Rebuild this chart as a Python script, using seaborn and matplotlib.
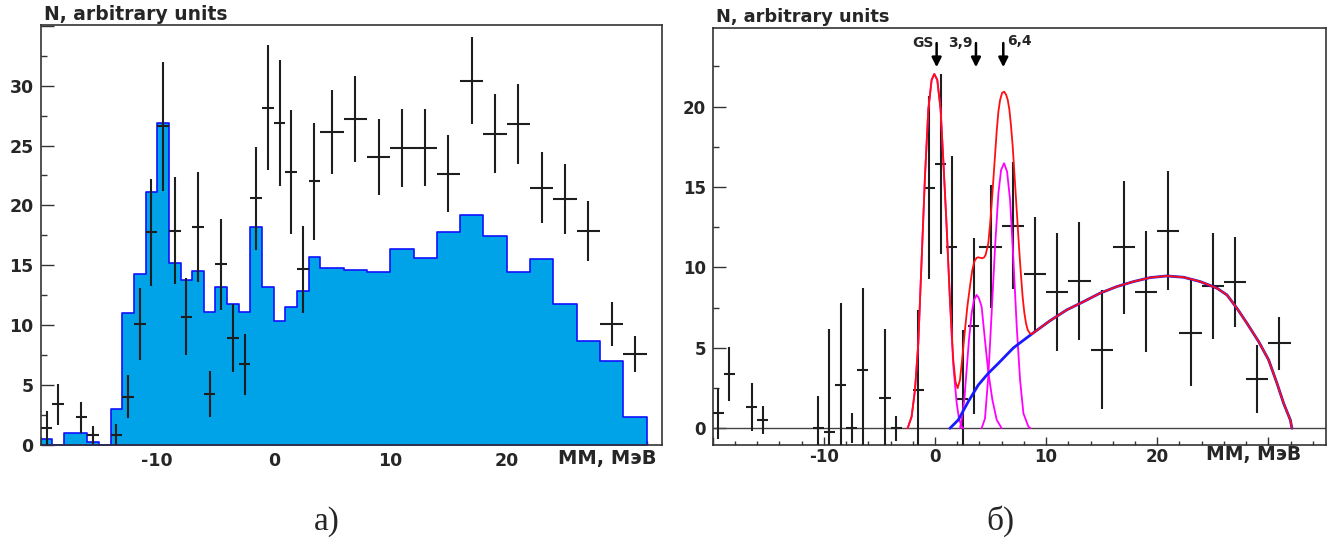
"""
Missing mass spectra: a) raw counts with simulated background, b) fit with GS, 3.9 and 6.4 MeV peaks
"""
import numpy as np
import pandas as pd
import matplotlib
matplotlib.use('Agg')
import matplotlib.pyplot as plt
from matplotlib.ticker import MultipleLocator, FuncFormatter
import seaborn as sns

# ---- panel a) : histogram (blue) ----
hist_edges = [-20, -19, -18, -17, -16, -15, -14, -13, -12, -11, -10, -9, -8, -7, -6, -5,
              -4, -3, -2, -1, 0, 1, 2, 3, 4, 6, 8, 10, 12, 14, 16, 18, 20, 22, 24, 26,
              28, 30, 32]
hist_counts = [0.47, 0, 1.03, 1.03, 0.28, 0, 3.03, 11.0, 14.28, 21.1, 26.86, 15.17, 13.8,
               14.55, 11.08, 13.2, 11.75, 11.1, 18.17, 13.2, 10.35, 11.55, 12.86, 15.67,
               14.8, 14.58, 14.45, 16.34, 15.59, 17.78, 19.18, 17.45, 14.47, 15.53, 11.74,
               8.71, 7.01, 2.37]

# ---- panel a) : data points ----
a_x = [-19.5, -18.5, -16.5, -15.5, -13.5, -12.5, -11.5, -10.5, -9.5, -8.5, -7.5, -6.5,
       -5.5, -4.5, -3.5, -2.5, -1.5, -0.5, 0.5, 1.5, 2.5, 3.5, 5, 7, 9, 11, 13, 15, 17,
       19, 21, 23, 25, 27, 29, 31]
a_y = [1.45, 3.4, 2.3, 0.83, 0.83, 4.04, 10.07, 17.76, 26.6, 17.9, 10.7, 18.2, 4.26, 15.1,
       8.96, 6.74, 20.6, 28.17, 26.86, 22.8, 14.67, 22.0, 26.16, 27.2, 24.05, 24.77, 24.83,
       22.66, 30.42, 25.97, 26.77, 21.49, 20.54, 17.9, 10.1, 7.63]
a_yerr = [1.42, 1.7, 1.3, 0.75, 0.9, 1.8, 3.0, 4.45, 5.4, 4.5, 3.2, 4.6, 1.9, 3.8, 2.85,
          2.55, 4.3, 5.25, 5.25, 5.2, 3.65, 4.9, 3.5, 3.6, 3.15, 3.27, 3.25, 3.25, 3.65,
          3.3, 3.35, 2.95, 2.95, 2.5, 1.8, 1.5]

# ---- panel b) : data points ----
b_x = [-19.5, -18.5, -16.5, -15.5, -10.5, -9.5, -8.5, -7.5, -6.5, -4.5, -3.5, -1.5, -0.5,
       0.5, 1.5, 2.5, 3.5, 5, 7, 9, 11, 13, 15, 17, 19, 21, 23, 25, 27, 29, 31]
b_y = [0.93, 3.38, 1.31, 0.52, 0, -0.25, 2.69, 0, 3.63, 1.87, 0, 2.38, 14.96, 16.43,
       11.25, 1.82, 6.36, 11.3, 12.6, 9.58, 8.46, 9.16, 4.87, 11.25, 8.5, 12.29, 5.95,
       8.85, 9.12, 3.07, 5.28]
b_yerr = [1.6, 1.7, 1.5, 0.85, 2.0, 6.4, 5.1, 0.93, 5.1, 4.3, 0.77, 5.0, 5.67, 5.62, 5.67,
          4.3, 5.5, 3.83, 3.94, 3.56, 3.68, 3.68, 3.7, 4.13, 3.75, 3.7, 3.35, 3.3, 2.8,
          2.12, 1.63]

# ---- panel b) : fit curves (read off the picture) ----
bg_x = [1.35, 2.1, 3.0, 3.9, 4.8, 5.71, 7.06, 8.71, 10.36, 11.86, 13.36, 14.86, 16.37,
        17.87, 19.37, 20.87, 22.37, 23.87, 25.38, 26.28, 27.18, 28.08, 29.13, 30.03,
        30.78, 31.38, 31.98, 32.13]
bg_y = [0, 0.52, 1.66, 2.69, 3.42, 4.04, 5.0, 5.86, 6.69, 7.36, 7.87, 8.40, 8.81, 9.12,
        9.37, 9.47, 9.39, 9.12, 8.71, 8.29, 7.46, 6.53, 5.39, 4.25, 2.80, 1.55, 0.52, 0.0]

total_x = [-2.46, -2.10, -1.80, -1.50, -1.20, -0.90, -0.60, -0.30, -0.06, 0.21, 0.51,
           0.75, 1.05, 1.35, 1.50, 1.65, 1.85, 2.04, 2.25, 2.45, 2.70, 2.92, 3.15, 3.35,
           3.54, 3.75, 3.90, 4.08, 4.26, 4.42, 4.56, 4.80, 4.95, 5.10, 5.25, 5.41, 5.56,
           5.71, 5.86, 6.04, 6.22, 6.40, 6.55, 6.70, 6.85, 7.00, 7.15, 7.30, 7.45, 7.60,
           7.75, 7.90, 8.05, 8.20, 8.35, 8.55, 8.71, 10.36, 11.86, 13.36, 14.86, 16.37,
           17.87, 19.37, 20.87, 22.37, 23.87, 25.38, 26.28, 27.18, 28.08, 29.13, 30.03,
           30.78, 31.38, 31.98, 32.13]
total_y = [0, 0.72, 2.38, 5.28, 10.47, 15.65, 19.8, 21.66, 22.03, 21.66, 19.8, 16.69,
           12.54, 7.98, 6.11, 4.25, 2.9, 2.49, 3.0, 4.3, 6.11, 7.6, 8.81, 9.8, 10.36,
           10.6, 10.63, 10.6, 10.57, 10.62, 10.78, 11.5, 12.6, 13.9, 15.4, 17.0, 18.5,
           19.7, 20.4, 20.85, 20.93, 20.75, 20.42, 19.8, 18.76, 17.5, 15.86, 14.2, 12.54,
           10.9, 9.43, 8.1, 7.15, 6.5, 6.11, 5.9, 5.86, 6.69, 7.36, 7.87, 8.40, 8.81, 9.12,
           9.37, 9.47, 9.39, 9.12, 8.71, 8.29, 7.46, 6.53, 5.39, 4.25, 2.80, 1.55, 0.52, 0.0]

gs_x = [-2.46, -2.10, -1.80, -1.50, -1.20, -0.90, -0.60, -0.30, -0.06, 0.21, 0.51, 0.75,
        1.05, 1.35, 1.50, 1.65, 1.95, 2.16, 2.40, 2.55]
gs_y = [0, 0.72, 2.38, 5.28, 10.47, 15.65, 19.8, 21.66, 22.03, 21.66, 19.8, 16.69, 12.54,
        7.9, 5.9, 3.9, 1.6, 0.6, 0.1, 0]

p39_x = [2.25, 2.40, 2.64, 2.85, 3.06, 3.30, 3.50, 3.75, 3.95, 4.20, 4.50, 4.80, 5.17,
         5.56, 6.0]
p39_y = [0, 0.52, 1.76, 3.63, 5.49, 7.15, 7.95, 8.29, 8.1, 7.56, 5.49, 3.5, 1.76, 0.52, 0]

p64_x = [4.2, 4.5, 4.8, 5.1, 5.41, 5.71, 5.95, 6.22, 6.49, 6.76, 7.06, 7.36, 7.66, 7.96,
         8.41, 8.6]
p64_y = [0, 0.6, 3.2, 7.15, 11.29, 14.61, 16.06, 16.48, 15.96, 14.2, 10.47, 6.32, 3.0,
         0.93, 0.1, 0]

# peak markers: label, arrow position
peak_labels = ['GS', '3,9', '6,4']
peak_pos = [0.15, 3.69, 6.15]

# ---- style ----
sns.set_style('white')
plt.rcParams['font.family'] = ['DejaVu Sans']
plt.rcParams['font.weight'] = 'bold'

FRAME = '#333333'
BAR = '#1e1e1e'


def style_axes(ax, xlim, ylim, label_size, ylab_max, xpad):
    """ROOT-like frame: inward ticks on bottom and left only"""
    ax.set_xlim(*xlim)
    ax.set_ylim(*ylim)
    for sp in ax.spines.values():
        sp.set_color(FRAME)
        sp.set_linewidth(1.2)
        sp.set_visible(True)
    ax.xaxis.set_major_locator(MultipleLocator(10))
    ax.xaxis.set_minor_locator(MultipleLocator(2))
    ax.yaxis.set_major_locator(MultipleLocator(5))
    ax.yaxis.set_minor_locator(MultipleLocator(2.5))
    ax.xaxis.set_major_formatter(FuncFormatter(
        lambda v, p: '' if round(v) in (-20, 30) else f'{v:g}'))
    ax.yaxis.set_major_formatter(FuncFormatter(
        lambda v, p: '' if v > ylab_max else f'{v:g}'))
    ax.tick_params(which='both', direction='in', top=False, right=False,
                   bottom=True, left=True, color=FRAME, width=1)
    ax.tick_params(axis='y', which='major', length=9, pad=5, labelsize=label_size)
    ax.tick_params(axis='y', which='minor', length=4.5)
    ax.tick_params(axis='x', which='major', length=6, pad=xpad, labelsize=label_size)
    ax.tick_params(axis='x', which='minor', length=3)
    for lab in ax.get_xticklabels() + ax.get_yticklabels():
        lab.set_fontweight('bold')
    ax.set_xlabel('')
    ax.set_ylabel('')


fig = plt.figure(figsize=(13.43, 5.44), dpi=100)
ax1 = fig.add_axes([0.0303, 0.182, 0.4624, 0.772])
ax2 = fig.add_axes([0.5307, 0.182, 0.4567, 0.766])

# --- a) ---
edges = np.array(hist_edges, dtype=float)
hist_df = pd.DataFrame({'mm': (edges[:-1] + edges[1:]) / 2, 'n': hist_counts})
sns.histplot(data=hist_df, x='mm', weights='n', bins=hist_edges, element='step',
             fill=True, color='#00a2e8', edgecolor='#1010ff', linewidth=1.2, alpha=1,
             ax=ax1)

a_xerr = [0.5 if x < 4 else 1.0 for x in a_x]
ax1.errorbar(a_x, a_y, xerr=a_xerr, yerr=a_yerr, fmt='none', ecolor=BAR,
             elinewidth=1.5, capsize=0, zorder=4)
style_axes(ax1, (-20, 33.3), (0, 35.06), 12.5, 30, 5)

# --- b) ---
ax2.axhline(0, color='#444444', lw=1.0, zorder=1)
b_xerr = [0.5 if x < 4 else 1.0 for x in b_x]
ax2.errorbar(b_x, b_y, xerr=b_xerr, yerr=b_yerr, fmt='none', ecolor=BAR,
             elinewidth=1.5, capsize=0, zorder=3)

sns.lineplot(x=gs_x, y=gs_y, sort=False, estimator=None, color='#ff00ff', lw=1.3, ax=ax2)
sns.lineplot(x=p39_x, y=p39_y, sort=False, estimator=None, color='#ff00ff', lw=1.3, ax=ax2)
sns.lineplot(x=p64_x, y=p64_y, sort=False, estimator=None, color='#ff00ff', lw=1.3, ax=ax2)
sns.lineplot(x=bg_x, y=bg_y, sort=False, estimator=None, color='#1a1aff', lw=2.0, ax=ax2)
sns.lineplot(x=total_x, y=total_y, sort=False, estimator=None, color='#ff1010', lw=1.3,
             ax=ax2)
for line in ax2.lines[1:]:
    line.set_zorder(5)

for lab, xp in zip(peak_labels, peak_pos):
    ax2.annotate('', xy=(xp, 22.45), xytext=(xp, 23.95),
                 arrowprops=dict(arrowstyle='-|>', color='black', lw=1.8,
                                 mutation_scale=14, shrinkA=0, shrinkB=0))
    if lab == '6,4':
        ax2.text(xp + 0.35, 24.1, lab, ha='left', va='center', fontsize=10,
                 fontweight='bold')
    else:
        ax2.text(xp - 0.3, 23.95, lab, ha='right', va='center', fontsize=10,
                 fontweight='bold')
style_axes(ax2, (-20, 35.2), (-1.04, 24.87), 12, 20, 2)

# axis titles, ROOT style
fig.text(0.0328, 0.974, 'N, arbitrary units', fontsize=13.5, fontweight='bold',
         ha='left', va='center')
fig.text(0.533, 0.968, 'N, arbitrary units', fontsize=12.8, fontweight='bold',
         ha='left', va='center')
fig.text(0.489, 0.158, 'MM, МэВ', fontsize=14, fontweight='bold', ha='right',
         va='center')
fig.text(0.969, 0.165, 'MM, МэВ', fontsize=13.5, fontweight='bold', ha='right',
         va='center')

# panel captions
fig.text(0.2435, 0.042, 'а)', fontsize=24, family='Liberation Serif', fontweight='normal',
         ha='center', va='center')
fig.text(0.7446, 0.042, 'б)', fontsize=24, family='Liberation Serif', fontweight='normal',
         ha='center', va='center')

plt.savefig('out.png', dpi=100)
plt.close()
